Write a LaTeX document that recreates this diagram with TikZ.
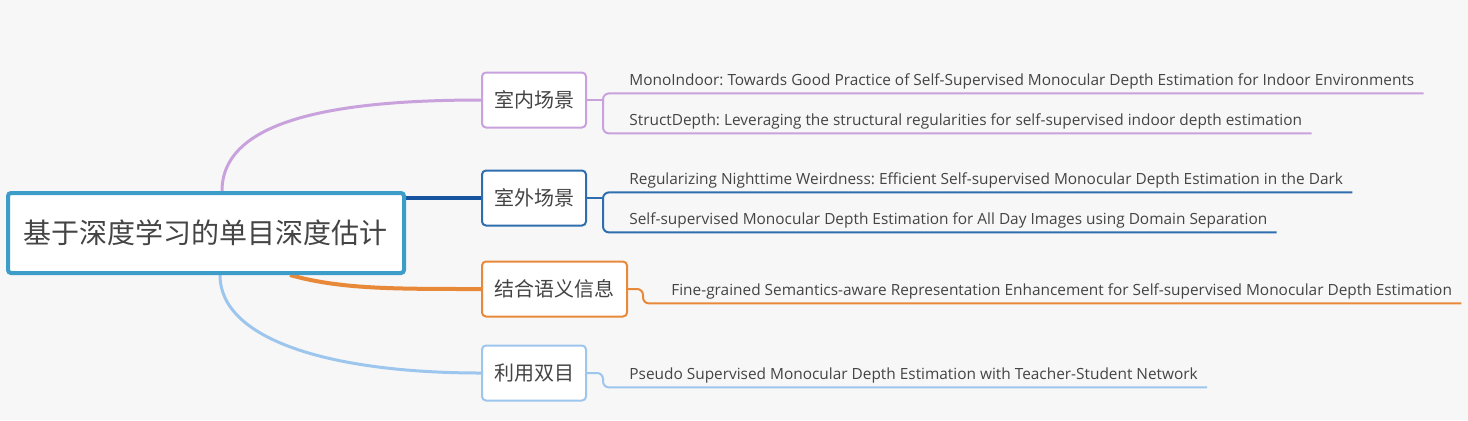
\documentclass[tikz,border=0pt]{standalone}
\usepackage{fontspec}
\setmainfont{Open Sans}
\newfontfamily\cjk{Noto Sans CJK SC}
\usetikzlibrary{positioning,backgrounds}
\frenchspacing
\definecolor{bggray}{RGB}{247,247,247}
\definecolor{rootblue}{RGB}{60,157,201}
\definecolor{inpurp}{RGB}{201,162,221}
\definecolor{outblue}{RGB}{47,110,174}
\definecolor{outline}{RGB}{22,84,160}
\definecolor{semoran}{RGB}{232,137,58}
\definecolor{stereoblue}{RGB}{157,198,238}
\definecolor{txtgray}{RGB}{68,68,68}

\begin{document}
\begin{tikzpicture}[x=0.5pt,y=-0.5pt,every node/.style={text=txtgray},
    topic/.style={draw,line width=1pt,rounded corners=2pt,fill=white,minimum height=27.5pt,font=\cjk\fontsize{10}{12}\selectfont},
    paper/.style={anchor=west,inner xsep=4.5pt,inner ysep=2pt,text height=5.3pt,text depth=1.7pt,font=\fontsize{7.7}{9}\selectfont},
    bracket/.style={line width=1pt,rounded corners=3pt}]
  \useasboundingbox (0,0) rectangle (1468,420);
  \node[draw=rootblue,line width=2pt,rounded corners=1.5pt,fill=white,minimum width=198pt,minimum height=40pt,font=\cjk\fontsize{14}{16}\selectfont] (root) at (206,233) {基于深度学习的单目深度估计};
  \node[topic,draw=inpurp,minimum width=52pt] (indoor) at (534,100) {室内场景};
  \node[topic,draw=outblue,minimum width=52pt] (outdoor) at (534,198) {室外场景};
  \node[topic,draw=semoran,minimum width=72.5pt] (semantic) at (554.5,289) {结合语义信息};
  \node[topic,draw=stereoblue,minimum width=52pt] (stereo) at (534,373) {利用双目};

  \node[paper] (mono) at (620,82) {MonoIndoor: Towards Good Practice of Self-Supervised Monocular Depth Estimation for Indoor Environments};
  \node[paper] (struct) at (620,122) {StructDepth: Leveraging the structural regularities for self-supervised indoor depth estimation};
  \node[paper] (night) at (620,181) {Regularizing Nighttime Weirdness: Efficient Self-supervised Monocular Depth Estimation in the Dark};
  \node[paper] (allday) at (620,221) {Self-supervised Monocular Depth Estimation for All Day Images using Domain Separation};
  \node[paper,right=17pt of semantic,yshift=-1.5pt] (finegr) {Fine-grained Semantics-aware Representation Enhancement for Self-supervised Monocular Depth Estimation};
  \node[paper] (pseudo) at (620,376) {Pseudo Supervised Monocular Depth Estimation with Teacher-Student Network};

  \coordinate (kin) at (603,100);
  \coordinate (kout) at (603,198);
  \coordinate (ksem) at (643,289);
  \coordinate (kst) at (603,373);

  % root to topics
  \begin{scope}[on background layer]
    \fill[bggray] (0,0) rectangle (1468,420);
    \draw[inpurp,line width=1.5pt] ([xshift=8pt]root.north) .. controls +(0,-70) and +(-150,0) .. (indoor.west);
    \draw[outline,line width=2pt] (root.east |- outdoor.west) -- (outdoor.west);
    \draw[semoran,line width=2pt] ([xshift=42pt]root.south) .. controls +(50,14) and +(-90,0) .. (semantic.west);
    \draw[stereoblue,line width=1.5pt] ([xshift=7pt]root.south) .. controls +(0,65) and +(-150,0) .. (stereo.west);
  \end{scope}

  % topics to papers
  \draw[inpurp,bracket] (indoor.east) -- (kin);
  \draw[inpurp,bracket] (mono.south east) -- (mono.south east -| kin) -- (struct.south east -| kin) -- (struct.south east);
  \draw[outblue,bracket] (outdoor.east) -- (kout);
  \draw[outblue,bracket] (night.south east) -- (night.south east -| kout) -- (allday.south east -| kout) -- (allday.south east);
  \draw[semoran,bracket] (semantic.east) -- (ksem) -- (ksem |- finegr.south) -- (finegr.south east);
  \draw[stereoblue,bracket] (stereo.east) -- (kst) -- (kst |- pseudo.south) -- (pseudo.south east);
\end{tikzpicture}
\end{document}
